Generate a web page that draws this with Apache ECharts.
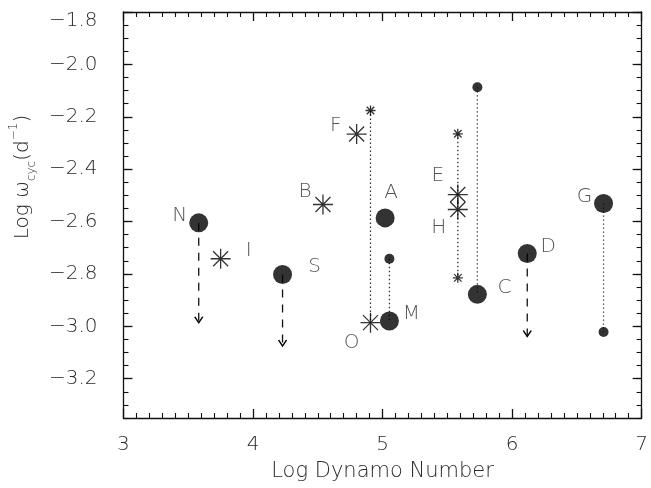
<!DOCTYPE html>
<html>
<head>
<meta charset="utf-8">
<script src="https://cdn.jsdelivr.net/npm/echarts@6/dist/echarts.min.js"></script>
<style>html,body{margin:0;padding:0;background:#fff}#chart{width:651px;height:488px}</style>
</head>
<body>
<div id="chart"></div>
<script>
// ---- data ----
const xTickValues = [3, 4, 5, 6, 7];
const yTickValues = [-3.2, -3.0, -2.8, -2.6, -2.4, -2.2, -2.0, -1.8];

const bigCircleNames = ['N', 'S', 'A', 'M', 'C', 'D', 'G'];
const bigCircleX = [3.581, 4.228, 5.020, 5.053, 5.732, 6.117, 6.706];
const bigCircleY = [-2.605, -2.802, -2.586, -2.980, -2.878, -2.722, -2.531];

const bigStarNames = ['I', 'B', 'F', 'O', 'E', 'H'];
const bigStarX = [3.750, 4.540, 4.800, 4.907, 5.581, 5.581];
const bigStarY = [-2.742, -2.535, -2.266, -2.986, -2.497, -2.554];

const smallCircleX = [5.053, 5.732, 6.706];
const smallCircleY = [-2.742, -2.087, -3.022];

const smallStarX = [4.907, 5.581, 5.581];
const smallStarY = [-2.176, -2.265, -2.815];

// dotted connectors: x, top y, bottom y
const dotX = [4.907, 5.053, 5.581, 5.732, 6.706];
const dotTop = [-2.176, -2.742, -2.265, -2.087, -2.531];
const dotBottom = [-2.986, -2.980, -2.815, -2.878, -3.022];

// upper limits (dashed arrows): x, from y, to y
const limX = [3.581, 4.228, 6.117];
const limFrom = [-2.605, -2.802, -2.722];
const limTo = [-2.986, -3.075, -3.039];

// ---- styles ----
const FONT = "'DejaVu Sans', sans-serif";
const TXT = '#2a2a2a';
const labelOffset = {
  N: [-19, -7], S: [32, -8], A: [6, -25], M: [22, -7], C: [27, -7], D: [21, -7], G: [-19, -7],
  I: [28, -8], B: [-18, -13], F: [-21, -8], O: [-19, 20], E: [-20, -19], H: [-19, 18]
};
const STAR = 'path://M0,10 L20,10 M10,0 L10,20 M2.5,2.5 L17.5,17.5 M2.5,17.5 L17.5,2.5';
const ARROW = 'path://M0,0 L4,6 L8,0';

function fmt(v) {
  return (Math.round(v * 10) / 10).toFixed(1).replace('-', '\u2212');
}

const series = [];
dotX.forEach((x, i) => {
  series.push({
    type: 'line', silent: true, symbol: 'none', z: 1,
    lineStyle: { color: '#333', width: 1.3, type: [1.4, 2.6] },
    data: [[x, dotTop[i]], [x, dotBottom[i]]]
  });
});
limX.forEach((x, i) => {
  series.push({
    type: 'line', silent: true, z: 1,
    lineStyle: { color: '#111', width: 1.3, type: [8, 7] },
    itemStyle: { color: 'none', borderColor: '#000', borderWidth: 1.3 },
    data: [
      { value: [x, limFrom[i]], symbol: 'none' },
      { value: [x, limTo[i]], symbol: ARROW, symbolSize: [8, 6], symbolOffset: [0, -3] }
    ]
  });
});
function labelled() {
  return {
    show: true, position: 'inside',
    formatter: p => p.name,
    fontFamily: FONT, fontSize: 20, fontWeight: 200, color: TXT
  };
}
series.push({
  type: 'scatter', z: 3, symbol: 'circle', symbolSize: 19,
  itemStyle: { color: '#000' },
  data: bigCircleNames.map((n, i) => ({ name: n, value: [bigCircleX[i], bigCircleY[i]], label: { offset: labelOffset[n] } })),
  label: labelled()
});
series.push({
  type: 'scatter', z: 3, symbol: STAR, symbolSize: 20,
  itemStyle: { color: 'none', borderColor: '#000', borderWidth: 1.3 },
  data: bigStarNames.map((n, i) => ({ name: n, value: [bigStarX[i], bigStarY[i]], label: { offset: labelOffset[n] } })),
  label: labelled()
});
series.push({
  type: 'scatter', z: 3, symbol: 'circle', symbolSize: 10,
  itemStyle: { color: '#000' },
  data: smallCircleX.map((x, i) => [x, smallCircleY[i]])
});
series.push({
  type: 'scatter', z: 3, symbol: STAR, symbolSize: 10,
  itemStyle: { color: 'none', borderColor: '#000', borderWidth: 1.3 },
  data: smallStarX.map((x, i) => [x, smallStarY[i]])
});

const axisLineStyle = { color: '#111', width: 1.3 };
function xAx(pos, labels) {
  return {
    type: 'value', min: xTickValues[0], max: xTickValues[xTickValues.length - 1], interval: 1,
    position: pos,
    axisLine: { show: true, onZero: false, lineStyle: axisLineStyle },
    axisTick: { show: true, inside: true, length: 9, lineStyle: axisLineStyle },
    minorTick: { show: true, splitNumber: 10, length: 5, lineStyle: { color: '#111', width: 1.1 } },
    splitLine: { show: false }, minorSplitLine: { show: false },
    axisLabel: { show: labels, margin: 17, fontFamily: FONT, fontSize: 20, fontWeight: 200, color: TXT },
    name: labels ? 'Log Dynamo Number' : '',
    nameLocation: 'middle', nameGap: 43,
    nameTextStyle: { fontFamily: FONT, fontSize: 21, fontWeight: 200, color: TXT }
  };
}
function yAx(pos, labels) {
  return {
    type: 'value', min: -3.35, max: -1.8, position: pos,
    axisLine: { show: true, onZero: false, lineStyle: axisLineStyle },
    axisTick: { show: true, inside: true, length: 9, lineStyle: axisLineStyle, customValues: yTickValues },
    splitLine: { show: false },
    axisLabel: {
      show: labels, customValues: yTickValues, margin: 26,
      formatter: v => (Math.abs(v - yTickValues[yTickValues.length - 1]) < 1e-6 ? '{top|' + fmt(v) + '}' : fmt(v)),
      rich: { top: { padding: [18, 0, 0, 0], fontFamily: FONT, fontSize: 20, fontWeight: 200, color: TXT } },
      fontFamily: FONT, fontSize: 20, fontWeight: 200, color: TXT
    },
    name: labels ? 'Log ω{sub|cyc}(d{sup|\u22121})' : '',
    nameLocation: 'middle', nameRotate: 90, nameGap: 78,
    nameTextStyle: {
      fontFamily: FONT, fontSize: 20, fontWeight: 200, color: TXT, lineHeight: 30,
      padding: [0, 0, 0, 76],
      rich: {
        sub: { fontFamily: FONT, fontSize: 12, fontWeight: 200, color: TXT, verticalAlign: 'bottom', lineHeight: 30 },
        sup: { fontFamily: FONT, fontSize: 12, fontWeight: 200, color: TXT, verticalAlign: 'top', lineHeight: 30 }
      }
    }
  };
}
function yMinor(pos) {
  return {
    type: 'value', min: -3.35, max: -1.8, interval: 0.05, position: pos,
    axisLine: { show: false, onZero: false },
    axisTick: { show: true, inside: true, length: 5, lineStyle: { color: '#111', width: 1.1 } },
    splitLine: { show: false }, axisLabel: { show: false }
  };
}

const chart = echarts.init(document.getElementById('chart'), null, { renderer: 'canvas' });
chart.setOption({
  animation: false,
  backgroundColor: '#fff',
  grid: { left: 113, right: 8, top: 12, bottom: 70, containLabel: false },
  xAxis: [xAx('bottom', true), xAx('top', false)],
  yAxis: [yAx('left', true), yAx('right', false), yMinor('left'), yMinor('right')],
  series: series
});
</script>
</body>
</html>
